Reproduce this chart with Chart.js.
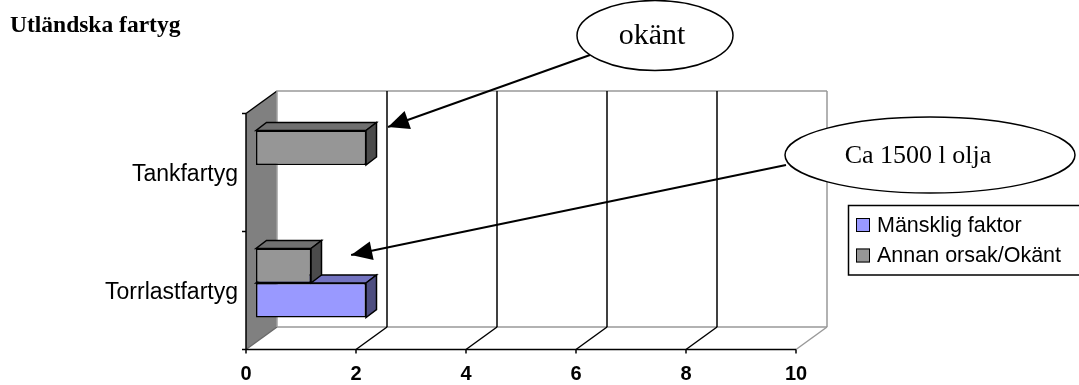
<!DOCTYPE html>
<html>
<head>
<meta charset="utf-8">
<script src="https://cdn.jsdelivr.net/npm/chart.js@4/dist/chart.umd.min.js"></script>
<style>
  html, body { margin: 0; padding: 0; background: #fff; }
  #wrap { width: 1079px; height: 385px; }
</style>
</head>
<body>
<div id="wrap"><canvas id="chart" width="1079" height="385"></canvas></div>
<script>
// Data
const categories = ['Tankfartyg', 'Torrlastfartyg'];
const manskligFaktor = [0, 2];
const annanOrsak = [2, 1];
const xTickValues = [0, 2, 4, 6, 8, 10];

const sans = '"Liberation Sans", Arial, sans-serif';
const serif = '"Liberation Serif", "Times New Roman", serif';

// faces of the 3D bars: front / top / side
const shades = {
  'Mänsklig faktor': ['#9999FF', '#7373C0', '#4D4D80'],
  'Annan orsak/Okänt': ['#969696', '#707070', '#4B4B4B']
};

// depth of the 3D box, relative to the plane of the bar fronts
const FRONT = { dx: -10, dy: 7.5 };
const BACK = { dx: 21, dy: -15 };
const BARDEPTH = { dx: 10.5, dy: -8 };

const line = (ctx, x1, y1, x2, y2, color, w) => {
  ctx.strokeStyle = color; ctx.lineWidth = w;
  ctx.beginPath(); ctx.moveTo(x1, y1); ctx.lineTo(x2, y2); ctx.stroke();
};

const poly = (ctx, pts, fill) => {
  ctx.beginPath();
  pts.forEach((p, i) => i ? ctx.lineTo(p[0], p[1]) : ctx.moveTo(p[0], p[1]));
  ctx.closePath();
  ctx.fillStyle = fill; ctx.fill();
  ctx.strokeStyle = '#000'; ctx.lineWidth = 1.5; ctx.stroke();
};

// walls, floor, axes and bar depth (behind the bar fronts)
const box3d = {
  id: 'box3d',
  beforeDatasetsDraw(chart) {
    const { ctx, chartArea: a, scales: { x, y } } = chart;
    ctx.save();
    const x0 = x.getPixelForValue(0);
    // side wall
    ctx.beginPath();
    ctx.moveTo(x0 + FRONT.dx, a.top + FRONT.dy);
    ctx.lineTo(x0 + BACK.dx, a.top + BACK.dy);
    ctx.lineTo(x0 + BACK.dx, a.bottom + BACK.dy);
    ctx.lineTo(x0 + FRONT.dx, a.bottom + FRONT.dy);
    ctx.closePath();
    ctx.fillStyle = '#808080'; ctx.fill();
    line(ctx, x0 + FRONT.dx, a.top + FRONT.dy, x0 + BACK.dx, a.top + BACK.dy, '#000', 1.5);
    line(ctx, x0 + FRONT.dx, a.bottom + FRONT.dy, x0 + BACK.dx, a.bottom + BACK.dy, '#6a6a6a', 1.5);
    line(ctx, x0 + BACK.dx, a.top + BACK.dy, x0 + BACK.dx, a.bottom + BACK.dy, '#a0a0a0', 1.5);

    // back wall frame
    const xEnd = x.getPixelForValue(xTickValues[xTickValues.length - 1]);
    line(ctx, x0 + BACK.dx, a.top + BACK.dy, xEnd + BACK.dx, a.top + BACK.dy, '#999', 1.5);
    line(ctx, x0 + BACK.dx, a.bottom + BACK.dy, xEnd + BACK.dx, a.bottom + BACK.dy, '#999', 1.5);

    // gridlines on back wall and floor
    xTickValues.forEach((v, i) => {
      if (i === 0) return;
      const px = x.getPixelForValue(v);
      const last = i === xTickValues.length - 1;
      const c = last ? '#999' : '#000';
      line(ctx, px + BACK.dx, a.top + BACK.dy, px + BACK.dx, a.bottom + BACK.dy, c, 1.5);
      line(ctx, px + FRONT.dx, a.bottom + FRONT.dy, px + BACK.dx, a.bottom + BACK.dy, c, 1.5);
    });

    // front x axis
    line(ctx, x0 + FRONT.dx, a.bottom + FRONT.dy, xEnd + FRONT.dx, a.bottom + FRONT.dy, '#000', 1.5);
    xTickValues.forEach(v => {
      const px = x.getPixelForValue(v) + FRONT.dx;
      line(ctx, px, a.bottom + FRONT.dy, px, a.bottom + FRONT.dy + 4, '#000', 1.5);
    });

    // front y axis
    line(ctx, x0 + FRONT.dx, a.top + FRONT.dy, x0 + FRONT.dx, a.bottom + FRONT.dy, '#000', 1.5);
    const band = (a.bottom - a.top) / categories.length;
    for (let i = 0; i <= categories.length; i++) {
      const py = a.top + band * i + FRONT.dy;
      line(ctx, x0 + FRONT.dx - 4, py, x0 + FRONT.dx, py, '#000', 1.5);
    }

    // top and side faces of the bars, lower bars first
    for (let d = chart.data.datasets.length - 1; d >= 0; d--) {
      const ds = chart.data.datasets[d];
      const sh = shades[ds.label];
      chart.getDatasetMeta(d).data.forEach((el, i) => {
        if (!ds.data[i]) return;
        const p = el.getProps(['x', 'y', 'base', 'height'], true);
        const top = p.y - p.height / 2, bottom = p.y + p.height / 2;
        poly(ctx, [[p.base, top], [p.x, top], [p.x + BARDEPTH.dx, top + BARDEPTH.dy], [p.base + BARDEPTH.dx, top + BARDEPTH.dy]], sh[1]);
        poly(ctx, [[p.x, top], [p.x + BARDEPTH.dx, top + BARDEPTH.dy], [p.x + BARDEPTH.dx, bottom + BARDEPTH.dy], [p.x, bottom]], sh[2]);
      });
    }
    ctx.restore();
  },

  afterDraw(chart) {
    const { ctx, scales: { x } } = chart;
    ctx.save();
    // title
    ctx.fillStyle = '#000';
    ctx.font = 'bold 23.5px ' + serif;
    ctx.textAlign = 'left'; ctx.textBaseline = 'alphabetic';
    ctx.fillText('Utländska fartyg', 10, 32);

    // legend (Mänsklig faktor listed first)
    ctx.lineWidth = 1.5; ctx.strokeStyle = '#000';
    ctx.strokeRect(848.5, 205.5, 240, 69.5);
    const entries = [chart.data.datasets[1], chart.data.datasets[0]];
    ctx.font = '21.5px ' + sans;
    ctx.textBaseline = 'middle';
    entries.forEach((ds, i) => {
      const cy = 225 + i * 30.5;
      ctx.fillStyle = ds.backgroundColor;
      ctx.fillRect(856, cy - 7, 14, 14);
      ctx.lineWidth = 1; ctx.strokeRect(856.5, cy - 6.5, 13, 13);
      ctx.fillStyle = '#000';
      ctx.fillText(ds.label, 877, cy + 1);
    });

    // callouts
    const callouts = [
      { text: 'okänt', cx: 655, cy: 35.5, rx: 78, ry: 35, size: 30, from: [590, 55], tip: [x.getPixelForValue(2.4), 127] },
      { text: 'Ca 1500 l olja', cx: 930, cy: 155, rx: 145, ry: 38, size: 26, from: [786, 165], tip: [x.getPixelForValue(1.73), 255] }
    ];
    callouts.forEach(c => {
      const [x1, y1] = c.from, [x2, y2] = c.tip;
      line(ctx, x1, y1, x2, y2, '#000', 2);
      const ang = Math.atan2(y2 - y1, x2 - x1);
      const len = 21, half = 9.5;
      const bx = x2 - len * Math.cos(ang), by = y2 - len * Math.sin(ang);
      ctx.beginPath();
      ctx.moveTo(x2, y2);
      ctx.lineTo(bx + half * Math.sin(ang), by - half * Math.cos(ang));
      ctx.lineTo(bx - half * Math.sin(ang), by + half * Math.cos(ang));
      ctx.closePath();
      ctx.fillStyle = '#000'; ctx.fill();

      ctx.beginPath();
      ctx.ellipse(c.cx, c.cy, c.rx, c.ry, 0, 0, Math.PI * 2);
      ctx.fillStyle = '#fff'; ctx.fill();
      ctx.lineWidth = 1.5; ctx.strokeStyle = '#000'; ctx.stroke();
      ctx.fillStyle = '#000';
      ctx.font = c.size + 'px ' + serif;
      ctx.textAlign = 'center'; ctx.textBaseline = 'middle';
      ctx.fillText(c.text, c.cx - (c.rx > 100 ? 12 : 3), c.cy + 1);
    });
    ctx.restore();
  }
};

new Chart(document.getElementById('chart'), {
  type: 'bar',
  data: {
    labels: categories,
    datasets: [
      { label: 'Annan orsak/Okänt', data: annanOrsak, backgroundColor: '#969696',
        borderColor: '#000', borderWidth: 1.5, borderSkipped: false },
      { label: 'Mänsklig faktor', data: manskligFaktor, backgroundColor: '#9999FF',
        borderColor: '#000', borderWidth: 1.5, borderSkipped: false }
    ]
  },
  options: {
    responsive: false,
    animation: false,
    indexAxis: 'y',
    categoryPercentage: 0.585,
    barPercentage: 1,
    layout: { padding: { top: 106, right: 273, left: 0, bottom: 0 } },
    plugins: {
      legend: { display: false },
      title: { display: false },
      tooltip: { enabled: false }
    },
    scales: {
      x: {
        min: 0, max: 10,
        afterBuildTicks: s => { s.ticks = xTickValues.map(v => ({ value: v })); },
        afterFit: s => { s.height = 43; },
        grid: { display: false, drawTicks: false },
        border: { display: false },
        ticks: { color: '#000', padding: 20, labelOffset: FRONT.dx,
                 font: { family: sans, size: 20, weight: 'bold' } }
      },
      y: {
        afterFit: s => { s.width = 256; },
        grid: { display: false, drawTicks: false },
        border: { display: false },
        ticks: { color: '#000', padding: 18, labelOffset: 9.5,
                 font: { family: sans, size: 23 } }
      }
    }
  },
  plugins: [box3d]
});
</script>
</body>
</html>
